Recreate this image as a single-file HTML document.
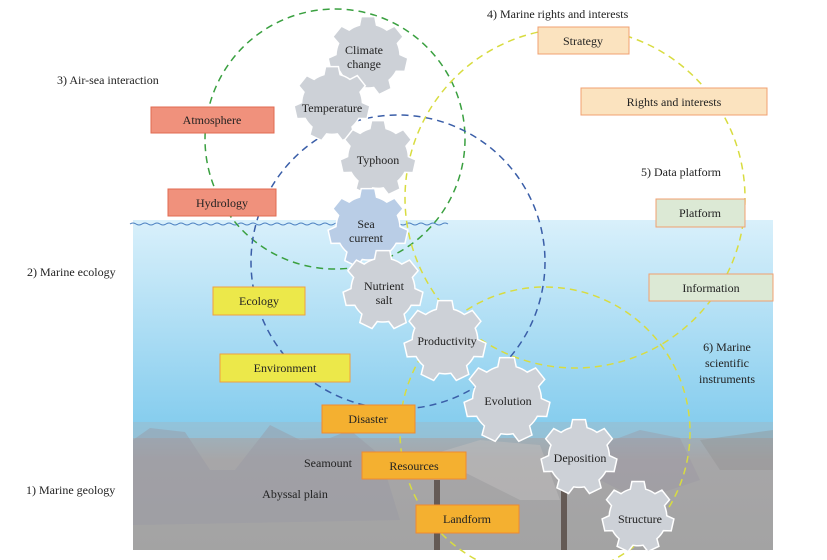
<!DOCTYPE html>
<html><head><meta charset="utf-8"><style>
body{margin:0;width:827px;height:560px;background:#fff;overflow:hidden;font-family:"Liberation Serif",serif;}
svg{position:absolute;left:0;top:0}
</style></head><body>
<svg width="827" height="560" viewBox="0 0 827 560" font-family="Liberation Serif, serif" font-size="12" fill="#222">
<defs>
<linearGradient id="sea" x1="0" y1="0" x2="0" y2="1"><stop offset="0" stop-color="#d9f0fb"/><stop offset="1" stop-color="#86cdee"/></linearGradient>
<linearGradient id="bed" x1="0" y1="0" x2="0" y2="1"><stop offset="0" stop-color="#9ab6c4"/><stop offset="0.3" stop-color="#a7a6a8"/><stop offset="1" stop-color="#a3a3a3"/></linearGradient>
</defs>
<rect x="133" y="220" width="640" height="203" fill="url(#sea)"/>
<rect x="133" y="422" width="640" height="128" fill="url(#bed)"/>
<rect x="133" y="422" width="640" height="16" fill="#8fc9e4" opacity="0.7"/>
<polygon points="133,440 150,428 185,432 210,470 235,470 270,425 300,440 330,438 350,430 380,455 400,520 133,525" fill="#9a98a4" opacity="0.45"/>
<polygon points="430,455 480,440 540,445 560,500 520,500" fill="#c0bdbd" opacity="0.5"/>
<polygon points="600,445 640,430 680,438 700,480 640,500 600,480" fill="#9a96a2" opacity="0.4"/>
<polygon points="700,440 773,430 773,470 720,470" fill="#929292" opacity="0.4"/>
<rect x="434" y="480" width="6" height="70" fill="#3a2a22" opacity="0.6"/>
<rect x="561" y="490" width="6" height="60" fill="#3a2a22" opacity="0.6"/>
<path d="M130,224 q3,-2 6,0 t6,0 t6,0 t6,0 t6,0 t6,0 t6,0 t6,0 t6,0 t6,0 t6,0 t6,0 t6,0 t6,0 t6,0 t6,0 t6,0 t6,0 t6,0 t6,0 t6,0 t6,0 t6,0 t6,0 t6,0 t6,0 t6,0 t6,0 t6,0 t6,0 t6,0 t6,0 t6,0 t6,0 t6,0 t6,0 t6,0 t6,0 t6,0 t6,0 t6,0 t6,0 t6,0 t6,0 t6,0 t6,0 t6,0 t6,0 t6,0 t6,0 t6,0 t6,0 t6,0" fill="none" stroke="#4a7fc0" stroke-width="1"/>
<g fill="none" stroke-width="1.5" stroke-dasharray="7,5">
<circle cx="335" cy="139" r="130" stroke="#3aa040"/>
<circle cx="398" cy="262" r="147" stroke="#3a5ea8"/>
<circle cx="575" cy="198" r="170" stroke="#d8dc40"/>
<circle cx="545" cy="432" r="145" stroke="#d8dc40"/>
</g>
<g id="gears"></g>
<g font-size="12" text-anchor="middle">
<rect x="151" y="107" width="123" height="26" fill="#f0917c" stroke="#e06a50"/><text x="212" y="124">Atmosphere</text>
<rect x="168" y="189" width="108" height="27" fill="#f0917c" stroke="#e06a50"/><text x="222" y="207">Hydrology</text>
<rect x="538" y="27" width="91" height="27" fill="#fbe3bf" stroke="#f0a070"/><text x="583" y="45">Strategy</text>
<rect x="581" y="88" width="186" height="27" fill="#fbe3bf" stroke="#f0a070"/><text x="674" y="106">Rights and interests</text>
<rect x="656" y="199" width="89" height="28" fill="#dce9d5" stroke="#f0a070"/><text x="700" y="217">Platform</text>
<rect x="649" y="274" width="124" height="27" fill="#dce9d5" stroke="#f0a070"/><text x="711" y="292">Information</text>
<rect x="213" y="287" width="92" height="28" fill="#ece84a" stroke="#f0a040"/><text x="259" y="305">Ecology</text>
<rect x="220" y="354" width="130" height="28" fill="#ece84a" stroke="#f0a040"/><text x="285" y="372">Environment</text>
<rect x="322" y="405" width="93" height="28" fill="#f4b030" stroke="#f08a30"/><text x="368" y="423">Disaster</text>
<rect x="362" y="452" width="104" height="27" fill="#f4b030" stroke="#f08a30"/><text x="414" y="470">Resources</text>
<rect x="416" y="505" width="103" height="28" fill="#f4b030" stroke="#f08a30"/><text x="467" y="523">Landform</text>
<text x="364" y="54">Climate</text><text x="364" y="68">change</text>
<text x="332" y="112">Temperature</text>
<text x="378" y="164">Typhoon</text>
<text x="366" y="228">Sea</text><text x="366" y="242">current</text>
<text x="384" y="290">Nutrient</text><text x="384" y="304">salt</text>
<text x="447" y="345">Productivity</text>
<text x="508" y="405">Evolution</text>
<text x="580" y="462">Deposition</text>
<text x="640" y="523">Structure</text>
<text x="328" y="467">Seamount</text>
<text x="295" y="498">Abyssal plain</text>
<text x="727" y="351">6) Marine</text><text x="727" y="367">scientific</text><text x="727" y="383">instruments</text>
</g>
<g font-size="12">
<text x="487" y="18">4) Marine rights and interests</text>
<text x="57" y="84">3) Air-sea interaction</text>
<text x="641" y="176">5) Data platform</text>
<text x="27" y="276">2) Marine ecology</text>
<text x="26" y="494">1) Marine geology</text>
</g>
</svg>
<script>
var g=[[368,56,40,0],[332,104,38,0],[378,158,38,0],[368,228,40,1],[383,290,40,0],[445,341,41,0],[507,400,43,0],[579,457,38,0],[638,517,36,0]];
var ns="http://www.w3.org/2000/svg",G=document.getElementById("gears");
g.forEach(function(a){var cx=a[0],cy=a[1],R=a[2],r=R*0.8,n=7,d="";
for(var i=0;i<n;i++){var b=i*2*Math.PI/n-Math.PI/2,w=Math.PI/n;
var pts=[[r,b-w*0.6],[R,b-w*0.38],[R,b+w*0.38],[r,b+w*0.6]];
pts.forEach(function(p,j){var x=cx+p[0]*Math.cos(p[1]),y=cy+p[0]*Math.sin(p[1]);d+=(i==0&&j==0?"M":"L")+x.toFixed(1)+","+y.toFixed(1);});
var e=b+w*1.4;d+="A"+r+","+r+" 0 0 1 "+(cx+r*Math.cos(e)).toFixed(1)+","+(cy+r*Math.sin(e)).toFixed(1);}
var p=document.createElementNS(ns,"path");p.setAttribute("d",d+"Z");
p.setAttribute("fill",a[3]?"#b9cde6":"#cdd1d7");p.setAttribute("stroke","#fff");p.setAttribute("stroke-width","1.5");G.appendChild(p);});
</script>
</body></html>
